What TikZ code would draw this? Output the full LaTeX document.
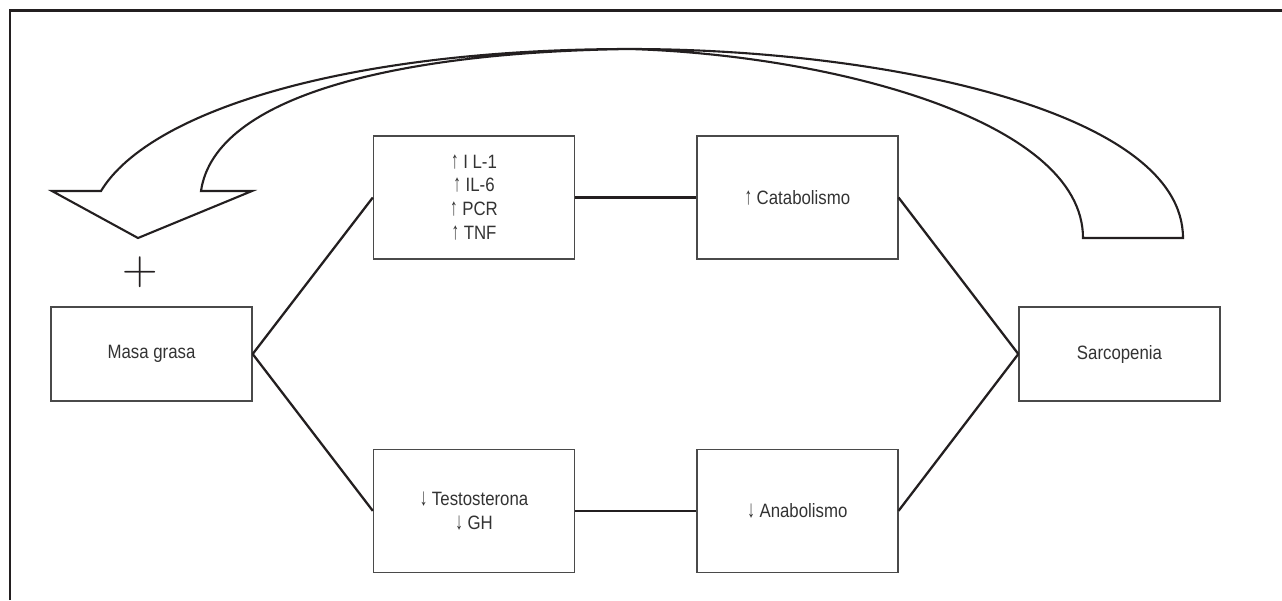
\documentclass[tikz,border=0pt]{standalone}
\usepackage{fontspec}
\newfontfamily\condsans[FakeStretch=0.87]{Liberation Sans}
\usetikzlibrary{positioning}
\definecolor{ink}{HTML}{231F20}
\definecolor{boxline}{HTML}{4A4A4A}
\definecolor{txt}{HTML}{333333}
\newcommand\uparr{\scalebox{0.9}[1.25]{\bfseries ↑}}
\newcommand\dnarr{\scalebox{0.9}[1.25]{\bfseries ↓}}

\begin{document}
\begin{tikzpicture}[
  x=0.02cm, y=-0.02cm,
  fbox/.style={draw=boxline, line width=0.8pt, minimum width=4.02cm, fill=white,
               text=txt, font=\condsans\fontsize{11}{13.6}\selectfont, align=center, inner sep=0pt},
  endbox/.style={fbox, minimum height=1.88cm},
  midbox/.style={fbox, minimum height=2.46cm},
  link/.style={line width=1.3pt, color=ink},
  bigarr/.style={line width=1.2pt, color=ink, line join=miter}
]
\useasboundingbox (0,0) rectangle (1282,600);
\draw[line width=1.4pt, color=ink] (9.8,600) -- (9.8,10.7) -- (1282,10.7);

\node[endbox]                         (masa)  at (151.5,354)  {Masa grasa};
\node[midbox]                         (il)    at (474,197.5)  {\uparr\ I L-1\\\uparr\ IL-6\\\uparr\ PCR\\\uparr\ TNF};
\node[midbox, right=2.42cm of il]     (cata)  {\uparr\ Catabolismo};
\node[midbox, below=3.78cm of il]     (testo) {\dnarr\ Testosterona\\\dnarr\ GH};
\node[midbox, right=2.42cm of testo]  (ana)   {\dnarr\ Anabolismo};
\node[endbox]                         (sarc)  at (1119.5,354) {Sarcopenia};
\node[font=\fontsize{28}{28}\selectfont, text=ink, inner sep=0pt] (plus) at (140,272) {+};

\draw[link] (masa.east)  -- (il.west);
\draw[link] (masa.east)  -- (testo.west);
\draw[link] (il.east)    -- (cata.west);
\draw[link] (testo.east) -- (ana.west);
\draw[link] (cata.east)  -- (sarc.west);
\draw[link] (ana.east)   -- (sarc.west);

\draw[bigarr] (1083,238) -- (1183,238)
  .. controls (1183,110) and (880,49) .. (630,49)
  .. controls (350,49) and (150,110) .. (101,191)
  -- (52,191) -- (138,238) -- (252,191) -- (201,191)
  .. controls (215,95) and (400,52) .. (630,49)
  .. controls (830,55) and (1083,120) .. cycle;
\end{tikzpicture}
\end{document}
